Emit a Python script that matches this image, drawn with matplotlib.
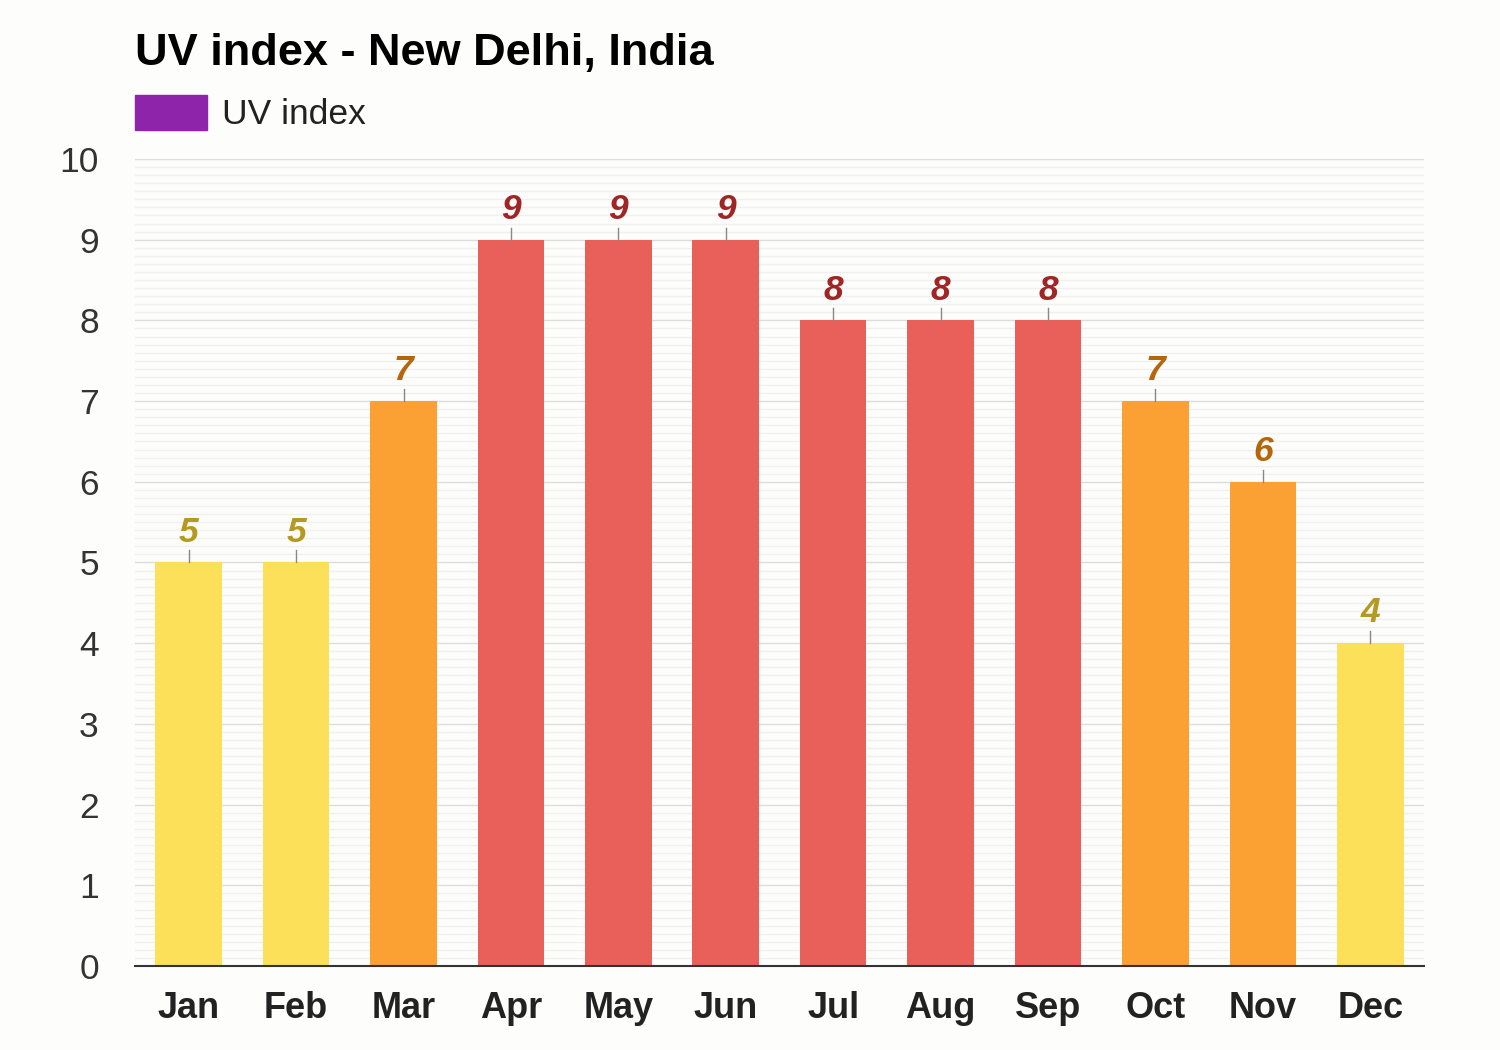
import matplotlib
matplotlib.use("Agg")
import matplotlib.pyplot as plt
import numpy as np

months = ["Jan", "Feb", "Mar", "Apr", "May", "Jun", "Jul", "Aug", "Sep", "Oct", "Nov", "Dec"]
uv = [5, 5, 7, 9, 9, 9, 8, 8, 8, 7, 6, 4]

def bar_color(v):
    if v <= 5:
        return "#FCE05A", "#B59A22"
    if v <= 7:
        return "#FBA032", "#B5650A"
    return "#E95F5A", "#A02525"

plt.rcParams['font.family'] = ['Liberation Sans', 'DejaVu Sans']
bg = "#FDFDFB"
fig = plt.figure(figsize=(15, 10.5), dpi=100, facecolor=bg)
ax = fig.add_axes([0.09, 0.08, 0.9493 - 0.09, 0.8486 - 0.08], facecolor=bg)

x = np.arange(len(months))
cols = [bar_color(v)[0] for v in uv]
ax.bar(x, uv, width=0.62, color=cols, zorder=3)
for xi, v in zip(x, uv):
    ax.plot([xi, xi], [v, v + 0.15], color="#888888", lw=1, zorder=3)
    ax.text(xi, v + 0.17, str(v), ha="center", va="bottom", fontsize=25.5,
            fontweight="bold", fontstyle="italic", color=bar_color(v)[1], zorder=4)

ax.set_xlim(-0.5, 11.5)
ax.set_ylim(0, 10)
ax.set_yticks(range(0, 11))
ax.set_yticks(np.arange(0, 10.01, 0.1), minor=True)
ax.grid(axis="y", which="major", color="#DDDDDD", lw=1, zorder=0)
ax.grid(axis="y", which="minor", color="#F0F0F0", lw=1, zorder=0)
ax.set_xticks(x)
ax.set_xticklabels(months, fontsize=26, fontweight="bold", color="#222222")
ax.tick_params(axis="y", which="both", length=0, labelsize=25.5, labelcolor="#333333", pad=26)
ax.tick_params(axis="x", length=0, pad=18)
for s in ["top", "right", "left"]:
    ax.spines[s].set_visible(False)
ax.spines["bottom"].set_color("#333333")
ax.spines["bottom"].set_linewidth(1.5)
ax.spines["bottom"].set_zorder(5)

fig.text(0.09, 1 - 53 / 1050, "UV index - New Delhi, India", fontsize=32.5, fontweight="bold",
         color="#000000", ha="left", va="center")
fig.patches.append(matplotlib.patches.Rectangle((135 / 1500, 1 - 130 / 1050), 72 / 1500, 35 / 1050,
                                               transform=fig.transFigure, color="#8E24AA", figure=fig))
fig.text(222 / 1500, 1 - 114 / 1050, "UV index", fontsize=25.5, color="#222222", ha="left", va="center")

fig.savefig("out.png", dpi=100, facecolor=bg)
